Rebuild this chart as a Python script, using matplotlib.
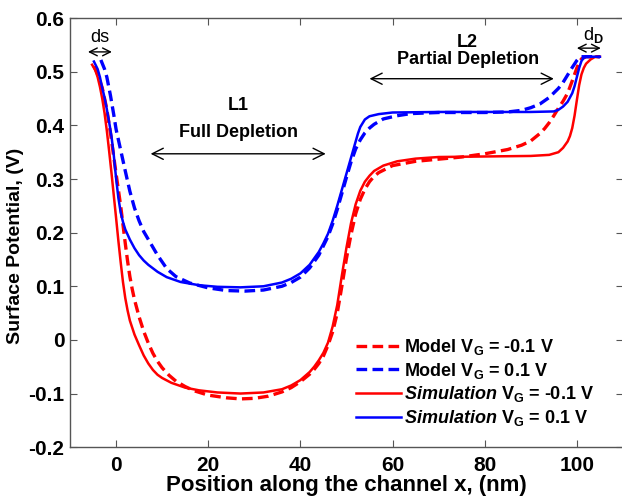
import matplotlib
matplotlib.use("Agg")
import matplotlib.pyplot as plt

plt.rcParams["font.family"] = ["Liberation Sans", "DejaVu Sans"]
plt.rcParams["font.weight"] = "bold"
plt.rcParams["mathtext.fontset"] = "custom"
plt.rcParams["mathtext.rm"] = "Liberation Sans:bold"
plt.rcParams["mathtext.it"] = "Liberation Sans:italic:bold"
plt.rcParams["mathtext.bf"] = "Liberation Sans:bold"

# ---------------------------------------------------------------------------
# data (x in nm, surface potential in V)
# ---------------------------------------------------------------------------
sim_neg_x = [-5.2, -4.5, -4, -3.5, -3, -2.5, -2, -1.5, -1, -0.5, 0, 0.5, 1,
             1.5, 2, 2.5, 3, 4, 5, 6, 7, 8, 9, 10, 12, 15, 18, 22, 27, 32, 36,
             38, 40, 42, 43, 44, 45, 46, 47, 48, 49, 50, 51, 52, 53, 54, 55,
             56, 58, 61, 65, 70, 80, 90, 94, 96, 97, 98, 98.5, 99, 99.5, 100,
             100.5, 101, 101.5, 102, 103, 104, 105]
sim_neg_y = [0.513, 0.503, 0.49, 0.472, 0.45, 0.423, 0.39, 0.352, 0.312, 0.27,
             0.228, 0.185, 0.145, 0.108, 0.078, 0.055, 0.036, 0.01, -0.01,
             -0.029, -0.044, -0.056, -0.065, -0.071, -0.08, -0.089, -0.094,
             -0.098, -0.1, -0.098, -0.092, -0.085, -0.075, -0.06, -0.05,
             -0.038, -0.024, -0.005, 0.025, 0.065, 0.12, 0.172, 0.218, 0.253,
             0.278, 0.295, 0.306, 0.315, 0.325, 0.333, 0.338, 0.341, 0.342,
             0.343, 0.345, 0.35, 0.358, 0.37, 0.38, 0.395, 0.418, 0.447,
             0.475, 0.495, 0.507, 0.515, 0.523, 0.528, 0.528]

mod_neg_x = [-4.8, -4, -3, -2, -1, 0, 0.5, 1, 1.5, 2, 2.5, 3, 3.5, 4, 5, 6, 7,
             8, 9, 10, 11.5, 13, 15, 17, 20, 24, 27, 30, 33, 36, 38, 40, 42,
             43, 44, 45, 46, 47, 48, 49, 50, 51, 52, 53, 54, 55, 56, 57, 60,
             65, 70, 75, 80, 85, 88, 90, 92, 93, 94, 95, 96, 97, 98, 99, 100,
             100.5, 101, 102, 105]
mod_neg_y = [0.51, 0.495, 0.47, 0.43, 0.373, 0.31, 0.28, 0.25, 0.215, 0.18,
             0.147, 0.118, 0.095, 0.075, 0.043, 0.016, -0.006, -0.025, -0.04,
             -0.052, -0.066, -0.077, -0.087, -0.095, -0.103, -0.108, -0.11,
             -0.109, -0.105, -0.097, -0.089, -0.078, -0.064, -0.055, -0.044,
             -0.03, -0.01, 0.015, 0.05, 0.1, 0.152, 0.197, 0.235, 0.262,
             0.281, 0.295, 0.305, 0.312, 0.325, 0.333, 0.337, 0.341, 0.347,
             0.355, 0.363, 0.371, 0.385, 0.394, 0.405, 0.418, 0.432, 0.445,
             0.46, 0.483, 0.507, 0.517, 0.524, 0.528, 0.528]

sim_pos_x = [-4.8, -4, -3.5, -3, -2.5, -2, -1.5, -1, -0.5, 0, 0.5, 1, 1.5, 2,
             3, 4, 5, 6, 7, 9, 11, 14, 18, 22, 27, 32, 36, 38, 40, 42, 44, 45,
             46, 47, 48, 49, 50, 51, 52, 52.5, 53, 54, 55, 57, 60, 70, 80, 90,
             95, 96, 97, 98, 99, 99.5, 100, 100.5, 101, 101.5, 102, 105]
sim_pos_y = [0.519, 0.505, 0.49, 0.47, 0.452, 0.43, 0.406, 0.38, 0.345, 0.302,
             0.265, 0.238, 0.22, 0.206, 0.187, 0.171, 0.158, 0.148, 0.14,
             0.127, 0.117, 0.108, 0.102, 0.099, 0.098, 0.1, 0.107, 0.114,
             0.124, 0.14, 0.164, 0.18, 0.198, 0.222, 0.25, 0.28, 0.31, 0.34,
             0.37, 0.385, 0.397, 0.411, 0.417, 0.421, 0.424, 0.425, 0.425,
             0.425, 0.426, 0.429, 0.435, 0.444, 0.46, 0.473, 0.49, 0.507,
             0.52, 0.526, 0.528, 0.528]

mod_pos_x = [-3.3, -2.5, -2, -1.2, -0.5, 0, 1, 2, 3, 4, 5, 6, 7.5, 9, 11, 13,
             16, 20, 24, 28, 32, 36, 38, 40, 42, 44, 46, 47, 48, 49, 50, 51,
             52, 53, 54, 55, 56, 58, 61, 64, 70, 80, 85, 88, 90, 92, 94, 96,
             97, 98, 99, 100, 100.5, 101, 105]
mod_pos_y = [0.522, 0.505, 0.49, 0.455, 0.42, 0.393, 0.354, 0.315, 0.277,
             0.246, 0.222, 0.202, 0.18, 0.158, 0.133, 0.118, 0.106, 0.097,
             0.092, 0.091, 0.093, 0.1, 0.107, 0.117, 0.134, 0.158, 0.193,
             0.216, 0.243, 0.273, 0.303, 0.332, 0.356, 0.373, 0.386, 0.395,
             0.402, 0.412, 0.418, 0.422, 0.424, 0.424, 0.425, 0.428, 0.433,
             0.44, 0.452, 0.469, 0.48, 0.494, 0.508, 0.521, 0.526, 0.528,
             0.528]

x_ticks = [0, 20, 40, 60, 80, 100]
y_ticks = [-0.2, -0.1, 0, 0.1, 0.2, 0.3, 0.4, 0.5, 0.6]
y_tick_labels = ["-0.2", "-0.1", "0", "0.1", "0.2", "0.3", "0.4", "0.5", "0.6"]

RED = "#FF0000"
BLUE = "#0000FF"
DASH = (0, (3.2, 1.6))

fig = plt.figure(figsize=(6.22, 5.03), dpi=100)
ax = fig.add_axes([0.1125, 0.111, 0.889, 0.853])

ax.plot(mod_neg_x, mod_neg_y, color=RED, lw=2.4, linestyle=DASH,
        label=r"Model V$_{\mathrm{G}}$ = -0.1 V")
ax.plot(mod_pos_x, mod_pos_y, color=BLUE, lw=2.4, linestyle=DASH,
        label=r"Model V$_{\mathrm{G}}$ = 0.1 V")
ax.plot(sim_neg_x, sim_neg_y, color=RED, lw=1.8,
        label=r"$\mathit{Simulation}$ V$_{\mathrm{G}}$ = -0.1 V")
ax.plot(sim_pos_x, sim_pos_y, color=BLUE, lw=1.8,
        label=r"$\mathit{Simulation}$ V$_{\mathrm{G}}$ = 0.1 V")

ax.set_xlim(-10, 110)
ax.set_ylim(-0.2, 0.6)
ax.set_xticks(x_ticks)
ax.set_yticks(y_ticks)
ax.set_yticklabels(y_tick_labels)
ax.tick_params(direction="in", top=True, right=True, labelsize=15,
               length=5, width=0.8, color="#555555", pad=4)
ax.tick_params(axis="x", pad=6)
for lab in ax.get_xticklabels() + ax.get_yticklabels():
    lab.set_fontweight("bold")
for sp in ax.spines.values():
    sp.set_color("#555555")
    sp.set_linewidth(1.0)

ax.set_xlabel("Position along the channel x, (nm)", fontsize=16,
              fontweight="bold", labelpad=0)
ax.set_ylabel("Surface Potential, (V)", fontsize=14, fontweight="bold")
ax.yaxis.set_label_coords(-0.084, 0.47)

# annotations
arrow = dict(arrowstyle="<->", color="black", lw=1.0,
             shrinkA=0, shrinkB=0, mutation_scale=14)
ax.annotate("", xy=(-6.1, 0.537), xytext=(-0.9, 0.537), arrowprops=arrow)
ax.text(-3.5, 0.564, "ds", ha="center", va="center", fontsize=13,
        fontweight="normal")
ax.annotate("", xy=(100, 0.544), xytext=(105.2, 0.544), arrowprops=arrow)
ax.text(103.5, 0.568, r"d$_{\mathrm{D}}$", ha="center", va="center",
        fontsize=13, fontweight="normal")

ax.text(26.5, 0.437, "L1", ha="center", va="center", fontsize=13)
ax.text(26.5, 0.386, "Full Depletion", ha="center", va="center",
        fontsize=13)
ax.annotate("", xy=(7.5, 0.347), xytext=(45.5, 0.347),
            arrowprops=dict(arrow, mutation_scale=20))

ax.text(76.3, 0.555, "L2", ha="center", va="center", fontsize=13)
ax.text(76.3, 0.522, "Partial Depletion", ha="center", va="center",
        fontsize=13)
ax.annotate("", xy=(55, 0.487), xytext=(95, 0.487),
            arrowprops=dict(arrow, mutation_scale=20))

ax.legend(loc="lower left", bbox_to_anchor=(0.518, 0.045), frameon=False,
          fontsize=13, handlelength=2.45, handletextpad=0.2,
          labelspacing=0.2, borderaxespad=0, borderpad=0)

fig.savefig("out.png", dpi=100)
